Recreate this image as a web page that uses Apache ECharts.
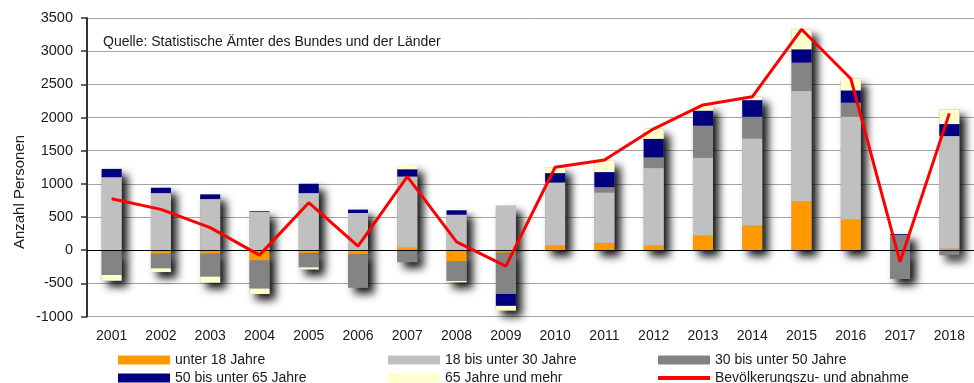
<!DOCTYPE html>
<html>
<head>
<meta charset="utf-8">
<script src="https://cdn.jsdelivr.net/npm/echarts@6/dist/echarts.min.js"></script>
<style>
  html, body { margin: 0; padding: 0; background: #fff; }
  #chart { width: 974px; height: 383px; }
</style>
</head>
<body>
<div id="chart"></div>
<script>
// Wanderungssaldo nach Altersgruppen
const years = ['2001','2002','2003','2004','2005','2006','2007','2008','2009',
               '2010','2011','2012','2013','2014','2015','2016','2017','2018'];

const under18   = [   0,  -55,  -55, -155,  -45,  -65,   40, -165,  -40,   76,  111,   71,  221,  372,  739,  463,    0,   25];
const age18to30 = [1100,  860,  770,  575,  860,  560, 1070,  535,  670,  944,  758, 1166, 1172, 1312, 1660, 1549,  230, 1695];
const age30to50 = [-375, -220, -345, -425, -215, -500, -180, -300, -620,    0,   81,  162,  483,  326,  428,  211, -433,  -75];
const age50to65 = [ 125,   80,   70,   10,  140,   50,  110,   65, -180,  142,  227,  280,  227,  252,  201,  186,   12,  181];
const age65plus = [ -85,  -55,  -90,  -80,  -30,    0,   50,  -20,  -70,   85,  176,  150,   70,   50,  302,  176,    0,  222];
const netChange = [ 775,  615,  340,  -75,  715,   60, 1110,  125, -240, 1250, 1360, 1830, 2190, 2312, 3330, 2585, -176, 2062];

const yMin = -1000, yMax = 3500, yStep = 500;

const groups = [
  { name: 'unter 18 Jahre',        data: under18,   color: '#ff9900' },
  { name: '18 bis unter 30 Jahre', data: age18to30, color: '#c0c0c0' },
  { name: '30 bis unter 50 Jahre', data: age30to50, color: '#848484' },
  { name: '50 bis unter 65 Jahre', data: age50to65, color: '#000080' },
  { name: '65 Jahre und mehr',     data: age65plus, color: '#ffffcc' }
];
const lineName = 'Bevölkerungszu- und abnahme';

// totals of each column's positive and negative parts, used for the drop shadow
const posTotal = years.map((_, i) => groups.reduce((s, g) => s + Math.max(0, g.data[i]), 0));
const negTotal = years.map((_, i) => groups.reduce((s, g) => s + Math.min(0, g.data[i]), 0));

const FONT = '"Liberation Sans", Arial, sans-serif';
const TXT = '#1a1a1a';

const shadowStyle = {
  color: '#999',
  shadowColor: 'rgba(0,0,0,0.92)',
  shadowBlur: 8,
  shadowOffsetX: 6,
  shadowOffsetY: 6
};

const series = [];
// shadow layer underneath the stacked columns
series.push({
  type: 'bar', stack: 'shadow', barWidth: 20, z: 1, silent: true,
  data: negTotal, itemStyle: shadowStyle,
  markLine: {
    silent: true, symbol: 'none', label: { show: false },
    lineStyle: { color: '#000', width: 1, type: 'solid' },
    data: [{ yAxis: 0 }]
  }
});
series.push({
  type: 'bar', stack: 'shadow', barWidth: 20, z: 1, silent: true,
  data: posTotal, itemStyle: shadowStyle
});

groups.forEach((g, gi) => {
  series.push({
    name: g.name, type: 'bar', stack: 'ages', barWidth: 20, barGap: '-100%', z: 2,
    itemStyle: { color: g.color },
    data: g.data.map((v, i) => {
      // the small 2017 gain among 18-30 year olds is drawn in the darker grey
      if (gi === 1 && years[i] === '2017') return { value: v, itemStyle: { color: '#848484' } };
      return v;
    })
  });
});

series.push({
  name: lineName, type: 'line', z: 5, symbol: 'none',
  lineStyle: { color: '#ff0000', width: 3 },
  itemStyle: { color: '#ff0000' },
  data: netChange
});

// one legend entry per slot: three columns, two rows
const legendSlots = [
  { name: 'unter 18 Jahre',        left: 118, top: 353 },
  { name: '18 bis unter 30 Jahre', left: 388, top: 353 },
  { name: '30 bis unter 50 Jahre', left: 658, top: 353 },
  { name: '50 bis unter 65 Jahre', left: 118, top: 371 },
  { name: '65 Jahre und mehr',     left: 388, top: 371 },
  { name: lineName,                left: 658, top: 371 }
];
const legends = legendSlots.map(s => ({
  left: s.left, top: s.top, padding: 0,
  itemWidth: 52, itemHeight: s.name === lineName ? 4 : 9, itemGap: 0,
  selectedMode: false,
  textStyle: { fontFamily: FONT, fontSize: 14, color: TXT },
  data: [{ name: s.name, icon: 'rect' }]
}));

const option = {
  animation: false,
  backgroundColor: '#fff',
  grid: { left: 87, top: 18, width: 891, height: 298.5, containLabel: false },
  xAxis: {
    type: 'category', data: years, position: 'bottom',
    axisLine: { show: false, onZero: false },
    axisTick: { show: false },
    axisLabel: { fontFamily: FONT, fontSize: 14, color: TXT, margin: 13 }
  },
  yAxis: {
    type: 'value', min: yMin, max: yMax, interval: yStep,
    axisLine: { show: true, lineStyle: { color: '#333', width: 2 } },
    axisTick: { show: true, length: 6, lineStyle: { color: '#333', width: 1.5 } },
    axisLabel: { fontFamily: FONT, fontSize: 14.5, color: TXT, margin: 14,
                 formatter: v => String(v) },
    splitLine: { show: true, lineStyle: { color: '#a3a3a3', width: 1 } }
  },
  legend: legends,
  graphic: [
    {
      type: 'text', left: 103, top: 35, z: 10,
      style: { text: 'Quelle: Statistische Ämter des Bundes und der Länder',
               font: '14px ' + FONT, fill: TXT }
    },
    {
      type: 'text', x: 20, y: 192, rotation: Math.PI / 2, z: 10,
      style: { text: 'Anzahl Personen', font: '15px ' + FONT, fill: TXT,
               align: 'center', verticalAlign: 'middle' }
    }
  ],
  series: series
};

const chart = echarts.init(document.getElementById('chart'), null, { renderer: 'canvas' });
chart.setOption(option);
</script>
</body>
</html>
